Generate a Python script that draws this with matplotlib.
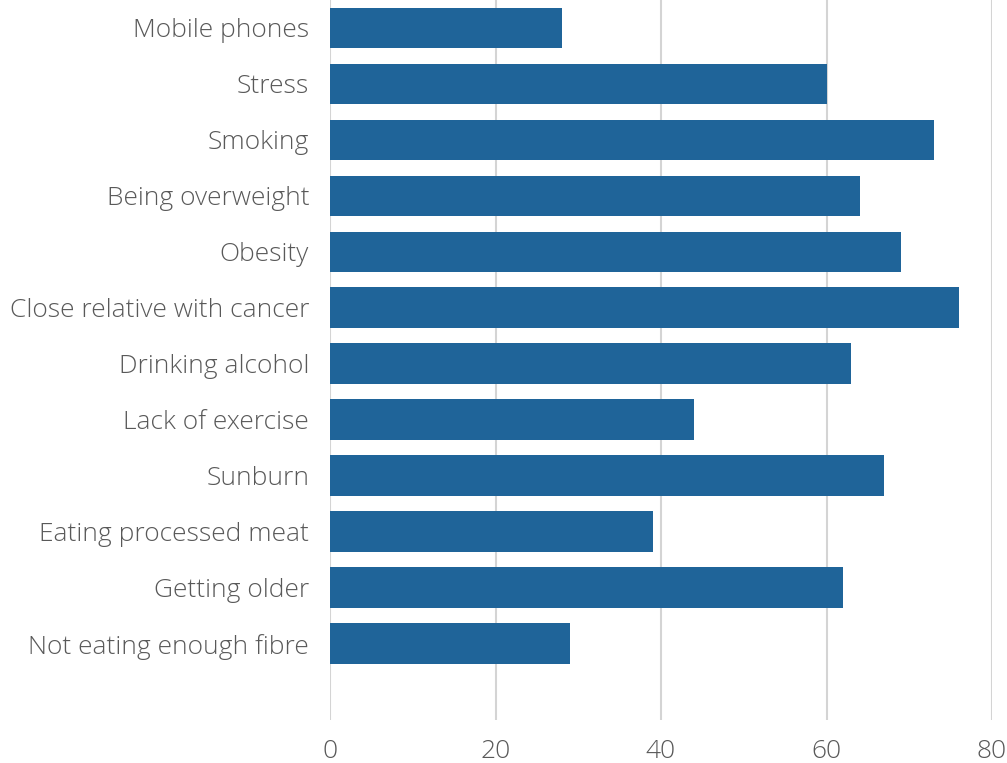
import matplotlib.pyplot as plt

# Perceived cancer risk factors (% of respondents)
factors = [
    "Mobile phones",
    "Stress",
    "Smoking",
    "Being overweight",
    "Obesity",
    "Close relative with cancer",
    "Drinking alcohol",
    "Lack of exercise",
    "Sunburn",
    "Eating processed meat",
    "Getting older",
    "Not eating enough fibre",
]
values = [28, 60, 73, 64, 69, 76, 63, 44, 67, 39, 62, 29]
x_ticks = [0, 20, 40, 60, 80]

plt.rcParams['font.family'] = ['Open Sans', 'DejaVu Sans']

fig = plt.figure(figsize=(10.07, 7.63), dpi=100)
ax = fig.add_axes([330 / 1007, 1 - 720 / 763, 662 / 1007, 720 / 763])

positions = list(range(len(factors)))
ax.barh(positions, values, height=0.73, color='#1f6499', zorder=3)

ax.set_xlim(0, 80)
ax.set_ylim(12.36, -0.5)
ax.set_xticks(x_ticks)
ax.set_yticks(positions)
ax.set_yticklabels(factors)

# Vertical grid only, no spines or tick marks
ax.grid(axis='x', color='#d4d4d4', linewidth=1.5, zorder=0)
ax.grid(axis='y', visible=False)
for spine in ax.spines.values():
    spine.set_visible(False)
ax.tick_params(axis='both', length=0, labelsize=19, labelcolor='#595959')
ax.tick_params(axis='y', pad=15)
ax.tick_params(axis='x', pad=14)
for label in ax.get_xticklabels() + ax.get_yticklabels():
    label.set_fontweight('light')

fig.savefig('out.png', dpi=100)
